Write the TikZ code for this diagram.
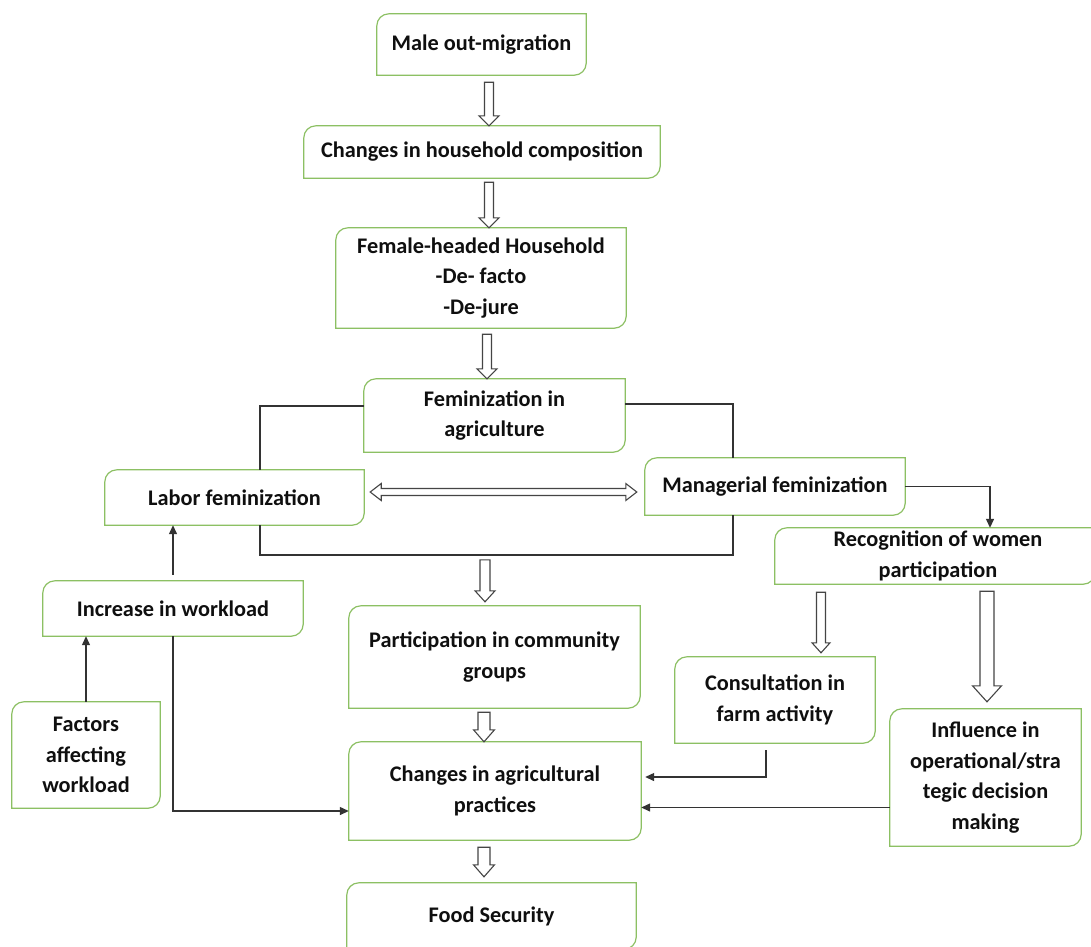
\documentclass[tikz,border=0pt]{standalone}
\usepackage{fontspec}
\setmainfont{Carlito}
\usetikzlibrary{arrows.meta,calc}
\definecolor{boxgreen}{HTML}{8CC063}
\definecolor{lineg}{HTML}{333333}
\definecolor{arrowg}{HTML}{454545}
\definecolor{txt}{HTML}{0F0F0F}
\tikzset{
  box/.style={draw=none, align=center, inner sep=0pt, text=txt,
    font=\bfseries\fontsize{22.3}{30.5}\selectfont},
  boxline/.style={draw=boxgreen, line width=1.2pt},
  conn/.style={draw=lineg, line width=1.3pt},
  tip/.style={-{Triangle[length=9pt,width=8pt]}},
  hollow/.style={draw=arrowg, line width=1.1pt, fill=white},
}
\newcommand{\diagoutline}[1]{%
  \draw[boxline] ([yshift=-12pt]#1.north west) arc[start angle=180,end angle=90,radius=12pt]
   -- (#1.north east) -- ([yshift=12pt]#1.south east) arc[start angle=0,end angle=-90,radius=12pt]
   -- (#1.south west) -- cycle;}
% start, end (tip y), shaft half width, head half width, head length
\newcommand{\vblock}[5]{%
  \draw[hollow] let \p1=#1, \p2=#2 in
    (\x1-#3pt,\y1) -- (\x1+#3pt,\y1) -- (\x1+#3pt,\y2+#5pt) -- (\x1+#4pt,\y2+#5pt)
    -- (\x1,\y2) -- (\x1-#4pt,\y2+#5pt) -- (\x1-#3pt,\y2+#5pt) -- cycle;}
\newcommand{\hdouble}[5]{%
  \draw[hollow] let \p1=#1, \p2=#2 in
    (\x1,\y1) -- (\x1+#5pt,\y1+#4pt) -- (\x1+#5pt,\y1+#3pt) -- (\x2-#5pt,\y1+#3pt)
    -- (\x2-#5pt,\y1+#4pt) -- (\x2,\y1) -- (\x2-#5pt,\y1-#4pt) -- (\x2-#5pt,\y1-#3pt)
    -- (\x1+#5pt,\y1-#3pt) -- (\x1+#5pt,\y1-#4pt) -- cycle;}
\begin{document}
\begin{tikzpicture}[x=1pt,y=-1pt]
\clip (0,0) rectangle (1091,946);
\fill[white] (0,0) rectangle (1091,946);

% nodes
\node[box, minimum width=209pt, minimum height=61pt] (mom) at (481.5,44.5) {Male out-migration};
\node[box, minimum width=356pt, minimum height=52pt] (hhc) at (482,152) {Changes in household composition};
\node[box, minimum width=290pt, minimum height=100pt] (fhh) at (481,278) {Female-headed Household\\-De- facto\\-De-jure};
\node[box, minimum width=261pt, minimum height=73pt] (fem) at (494.5,415.5) {Feminization in\\agriculture};
\node[box, minimum width=259pt, minimum height=55pt] (lab) at (234.5,497.5) {Labor feminization};
\node[box, minimum width=260pt, minimum height=57pt] (mgr) at (775,486.5) {Managerial feminization};
\node[box, minimum width=320pt, minimum height=56pt] (rec) at (935,556) {\makebox[0pt]{\hspace*{6pt}Recognition of women}\\\makebox[0pt]{\hspace*{6pt}participation}};
\node[box, minimum width=260pt, minimum height=55pt] (inc) at (173,608.5) {Increase in workload};
\node[box, minimum width=291pt, minimum height=102pt] (par) at (494.5,657) {Participation in community\\groups};
\node[box, minimum width=200pt, minimum height=86pt] (con) at (775,700) {Consultation in\\farm activity};
\node[box, minimum width=148pt, minimum height=106pt] (fac) at (86,755) {Factors\\affecting\\workload};
\node[box, minimum width=292pt, minimum height=98pt] (cap) at (495,791) {Changes in agricultural\\practices};
\node[box, minimum width=191pt, minimum height=137pt] (inf) at (985.5,777.5) {Influence in\\operational/stra\\tegic decision\\making};
\node[box, minimum width=289pt, minimum height=66pt] (fs) at (491.5,916) {Food Security};

\foreach \n in {mom,hhc,fhh,fem,lab,mgr,rec,inc,par,con,fac,cap,inf,fs}{\diagoutline{\n}}

% hollow block arrows
\vblock{([xshift=7.5pt,yshift=-7pt]mom.south)}{(hhc.north)}{4.5}{10}{10}
\vblock{([xshift=7pt,yshift=-4pt]hhc.south)}{(fhh.north)}{4.5}{10}{10}
\vblock{([xshift=6pt,yshift=-6pt]fhh.south)}{(fem.north)}{4.5}{10}{10}
\vblock{([xshift=-9.5pt,yshift=46pt]par.north)}{([yshift=4pt]par.north)}{5}{10}{11}
\vblock{([xshift=-10.5pt,yshift=-4pt]par.south)}{(cap.north)}{6}{10.5}{12}
\vblock{([xshift=-11pt,yshift=-7pt]cap.south)}{([yshift=6pt]fs.north)}{6}{10.5}{12}
\vblock{([xshift=-114pt,yshift=-8pt]rec.south)}{([yshift=4pt]con.north)}{4.5}{9}{10}
\vblock{([xshift=52pt,yshift=-7pt]rec.south)}{([yshift=7pt]inf.north)}{7}{14.5}{16}
\hdouble{([xshift=6pt,yshift=5.5pt]lab.east)}{([xshift=-8pt]mgr.west)}{3.5}{8.5}{11}

% loop connecting feminization boxes
\coordinate (tl) at (260,406);
\coordinate (tr) at (733,404);
\coordinate (br) at (733,555);
\draw[conn] (fem.west |- tl) -- (tl) -- (tl |- lab.north);
\draw[conn] (tl |- lab.south) -- (tl |- br) -- (br) -- (br |- mgr.south);
\draw[conn] (br |- mgr.north) -- (tr) -- (fem.east |- tr);

% thin arrows
\draw[conn,tip] (mgr.east) -| ([xshift=55pt]rec.north);
\draw[conn,tip] ([yshift=6pt]inc.north) -- (inc.north |- lab.south);
\draw[conn,tip] (fac.north) -- (fac.north |- inc.south);
\coordinate (c1) at ([yshift=-20pt]cap.west);
\draw[conn,tip] (inc.south) |- (c1);
\coordinate (c2) at ([xshift=4pt,yshift=14pt]cap.east);
\draw[conn,tip] ([xshift=-9pt,yshift=-7pt]con.south) |- (c2);
\coordinate (c3) at ([yshift=-30pt]inf.west);
\draw[conn,tip] (c3) -- (c3 -| cap.east);
\end{tikzpicture}
\end{document}
